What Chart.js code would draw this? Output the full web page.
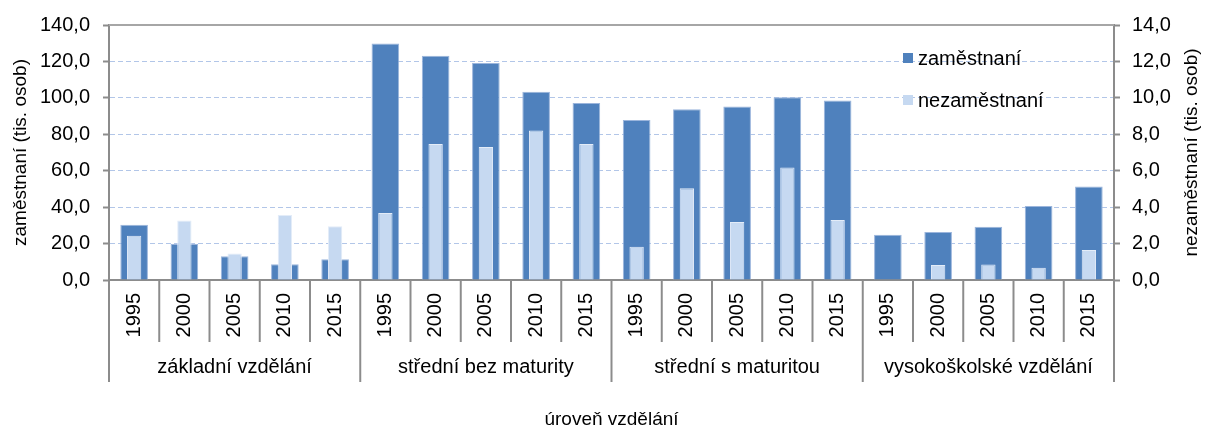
<!DOCTYPE html>
<html>
<head>
<meta charset="utf-8">
<script src="https://cdn.jsdelivr.net/npm/chart.js@4.4.1/dist/chart.umd.min.js"></script>
<style>
  html, body { margin: 0; padding: 0; background: #fff; }
  #wrap { width: 1206px; height: 430px; }
</style>
</head>
<body>
<div id="wrap"><canvas id="eduChart"></canvas></div>
<script>
// levels of education and survey years
const groups = ['základní vzdělání', 'střední bez maturity', 'střední s maturitou', 'vysokoškolské vzdělání'];
const years = ['1995', '2000', '2005', '2010', '2015'];

// employed (left axis, tis. osob)
const employed = [
  30.4, 19.7, 13.0, 8.7, 11.4,
  129.8, 123.1, 119.1, 103.3, 97.2,
  87.9, 93.7, 95.2, 100.4, 98.6,
  24.8, 26.3, 29.2, 40.6, 51.3
];
// unemployed (right axis, tis. osob)
const unemployed = [
  2.43, 3.26, 1.45, 3.57, 2.95,
  3.68, 7.47, 7.30, 8.21, 7.47,
  1.83, 5.04, 3.19, 6.18, 3.30,
  null, 0.82, 0.85, 0.67, 1.65
];

const leftMax = 140, leftStep = 20;
const rightMax = 14, rightStep = 2;
const xTitle = 'úroveň vzdělání';
const leftTitle = 'zaměstnaní (tis. osob)';
const rightTitle = 'nezaměstnaní (tis. osob)';

const labels = groups.flatMap(() => years);
const FONT = "'Liberation Sans', Arial, sans-serif";
const AXIS = '#8c8c8c';

function fmt(v) { return v.toFixed(1).replace('.', ','); }

function vText(ctx, text, x, y) {
  ctx.save();
  ctx.translate(x, y);
  ctx.rotate(-Math.PI / 2);
  ctx.fillText(text, 0, 0);
  ctx.restore();
}

// group labels, separators below the axis, titles, top border, legend
const extras = {
  id: 'extras',
  afterDraw(chart) {
    const { ctx, chartArea: a, scales: { x } } = chart;
    const n = labels.length;
    ctx.save();
    ctx.strokeStyle = '#a6a6a6';
    ctx.lineWidth = 2;
    ctx.beginPath();
    ctx.moveTo(a.left, a.top);
    ctx.lineTo(a.right, a.top);
    ctx.stroke();

    ctx.strokeStyle = AXIS;
    const edges = [];
    for (let i = 0; i <= n; i++) {
      let px;
      if (i === 0) px = a.left;
      else if (i === n) px = a.right;
      else px = (x.getPixelForValue(i - 1) + x.getPixelForValue(i)) / 2;
      edges.push(px);
      const len = i % years.length === 0 ? 102 : 62;
      ctx.beginPath();
      ctx.moveTo(px, a.bottom);
      ctx.lineTo(px, a.bottom + len);
      ctx.stroke();
    }

    ctx.fillStyle = '#000';
    ctx.font = '20px ' + FONT;
    ctx.textAlign = 'center';
    ctx.textBaseline = 'middle';
    groups.forEach((g, gi) => {
      const cx = (edges[gi * years.length] + edges[(gi + 1) * years.length]) / 2;
      ctx.fillText(g, cx, a.bottom + 87);
    });

    // axis titles
    ctx.font = '19px ' + FONT;
    ctx.fillText(xTitle, (a.left + a.right) / 2, 420);
    vText(ctx, leftTitle, 21, (a.top + a.bottom) / 2);
    vText(ctx, rightTitle, 1192, (a.top + a.bottom) / 2);

    // legend
    ctx.font = '20px ' + FONT;
    ctx.textAlign = 'left';
    chart.data.datasets.forEach((ds, i) => {
      const cy = 58 + i * 42;
      ctx.fillStyle = ds.backgroundColor;
      ctx.fillRect(903, cy - 5, 10, 10);
      ctx.fillStyle = '#000';
      ctx.fillText(ds.label, 918, cy + 1);
    });
    ctx.restore();
  }
};

new Chart(document.getElementById('eduChart'), {
  type: 'bar',
  data: {
    labels: labels,
    datasets: [
      {
        label: 'zaměstnaní',
        data: employed,
        yAxisID: 'y',
        backgroundColor: '#4f81bd',
        borderColor: '#9bb5dc',
        borderWidth: 1,
        barPercentage: 0.55,
        categoryPercentage: 1,
        grouped: false,
        order: 2
      },
      {
        label: 'nezaměstnaní',
        data: unemployed,
        yAxisID: 'y1',
        backgroundColor: '#c6d9f1',
        borderColor: '#e3ecf8',
        borderWidth: 1,
        barPercentage: 0.285,
        categoryPercentage: 1,
        grouped: false,
        order: 1
      }
    ]
  },
  options: {
    responsive: true,
    maintainAspectRatio: false,
    animation: false,
    devicePixelRatio: 1,
    layout: { padding: { top: 19, left: 0, right: 0, bottom: 0 } },
    plugins: {
      legend: { display: false },
      tooltip: { enabled: false }
    },
    scales: {
      x: {
        afterFit: (s) => { s.height = 150; },
        grid: { drawOnChartArea: false, drawTicks: false },
        border: { color: AXIS, width: 2 },
        ticks: {
          autoSkip: false,
          minRotation: 90,
          maxRotation: 90,
          padding: 13,
          color: '#000',
          font: { family: FONT, size: 20 }
        }
      },
      y: {
        position: 'left',
        min: 0,
        max: leftMax,
        afterFit: (s) => { s.width = 109; },
        ticks: {
          stepSize: leftStep,
          padding: 13,
          color: '#000',
          font: { family: FONT, size: 20 },
          callback: (v) => fmt(v)
        },
        grid: {
          color: (c) => (c.tick && (c.tick.value === 0 || c.tick.value === leftMax)) ? 'rgba(0,0,0,0)' : 'rgba(170,192,230,0.9)',
          lineWidth: 1,
          tickColor: AXIS,
          tickLength: 6,
          tickWidth: 2
        },
        border: { color: AXIS, width: 2, dash: [5, 3] }
      },
      y1: {
        position: 'right',
        min: 0,
        max: rightMax,
        afterFit: (s) => { s.width = 92; },
        ticks: {
          stepSize: rightStep,
          padding: 12,
          color: '#000',
          font: { family: FONT, size: 20 },
          callback: (v) => fmt(v)
        },
        grid: {
          drawOnChartArea: false,
          tickColor: AXIS,
          tickLength: 6,
          tickWidth: 2
        },
        border: { color: AXIS, width: 2 }
      }
    }
  },
  plugins: [extras]
});
</script>
</body>
</html>
